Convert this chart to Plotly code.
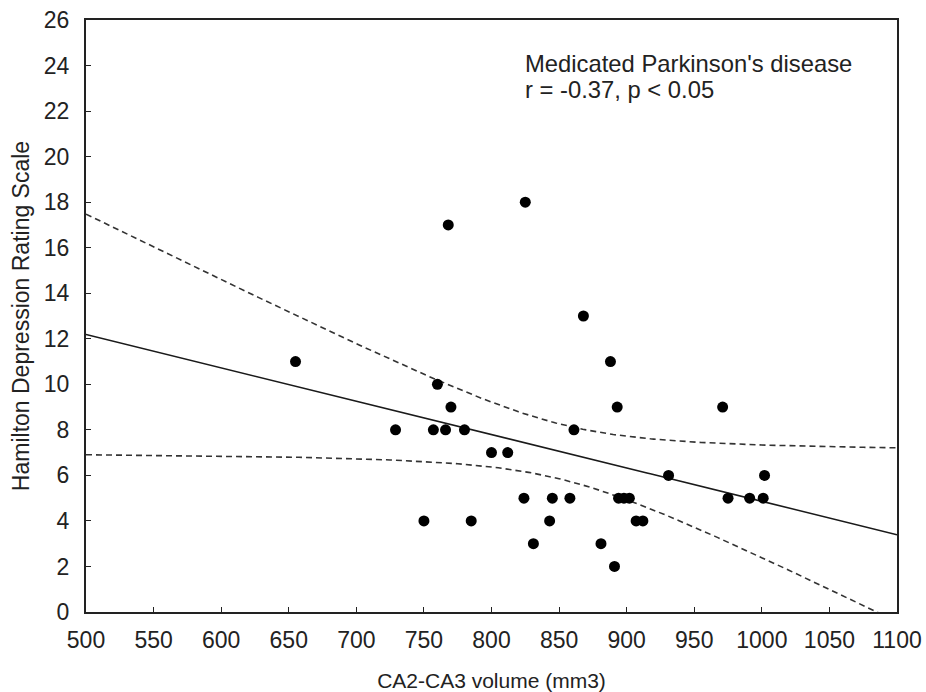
import numpy as np
import plotly.graph_objects as go

# Data
volume_mm3 = [655, 729, 750, 757, 760, 766, 768, 770, 780, 785,
              800, 812, 824, 825, 831, 843, 845, 858, 861, 868,
              881, 888, 891, 893, 894, 898, 902, 907, 912, 931,
              971, 975, 991, 1001, 1002]
hdrs_score = [11, 8, 4, 8, 10, 8, 17, 9, 8, 4,
              7, 7, 5, 18, 3, 4, 5, 5, 8, 13,
              3, 11, 2, 9, 5, 5, 5, 4, 4, 6,
              9, 5, 5, 5, 6]
x_ticks = [500, 550, 600, 650, 700, 750, 800, 850, 900, 950, 1000, 1050, 1100]
y_ticks = [0, 2, 4, 6, 8, 10, 12, 14, 16, 18, 20, 22, 24, 26]
label_line1 = "Medicated Parkinson's disease"
label_line2 = "r = -0.37, p < 0.05"

# Linear fit with 95% confidence band for the mean
x = np.array(volume_mm3, dtype=float)
y = np.array(hdrs_score, dtype=float)
n = len(x)
slope, intercept = np.polyfit(x, y, 1)
xm = x.mean()
sxx = ((x - xm) ** 2).sum()
s = np.sqrt(((y - (intercept + slope * x)) ** 2).sum() / (n - 2))
t_crit = 2.0345  # t(0.975, df=33)
xs = np.linspace(x_ticks[0], x_ticks[-1], 241)
yfit = intercept + slope * xs
hw = t_crit * s * np.sqrt(1.0 / n + (xs - xm) ** 2 / sxx)

fig = go.Figure()
fig.add_trace(go.Scatter(x=xs, y=yfit + hw, mode="lines",
                         line=dict(color="#333333", width=1.6, dash="6px,4px"),
                         showlegend=False, hoverinfo="skip"))
fig.add_trace(go.Scatter(x=xs, y=yfit - hw, mode="lines",
                         line=dict(color="#333333", width=1.6, dash="6px,4px"),
                         showlegend=False, hoverinfo="skip"))
fig.add_trace(go.Scatter(x=xs, y=yfit, mode="lines",
                         line=dict(color="#1a1a1a", width=1.5),
                         showlegend=False, hoverinfo="skip"))
fig.add_trace(go.Scatter(x=volume_mm3, y=hdrs_score, mode="markers",
                         marker=dict(color="black", size=11),
                         showlegend=False, cliponaxis=False))

font_family = "Liberation Sans, Arial, sans-serif"
axis_common = dict(showline=True, linecolor="#222222", linewidth=2, mirror=True,
                   ticks="inside", ticklen=5, tickwidth=1.2, tickcolor="#222222",
                   showgrid=False, zeroline=False, automargin=False,
                   tickfont=dict(family=font_family, size=23, color="#222222"))

fig.update_layout(
    width=926, height=692,
    margin=dict(l=86, r=29, t=20, b=80),
    paper_bgcolor="white", plot_bgcolor="white",
    font=dict(family=font_family, color="#222222"),
    xaxis=dict(range=[500, 1100], tickvals=x_ticks,
               title=dict(text="CA2-CA3 volume (mm3)",
                          font=dict(family=font_family, size=21, color="#222222"),
                          standoff=32),
               ticklabelstandoff=6, **axis_common),
    yaxis=dict(range=[0, 26], tickvals=y_ticks,
               title=dict(text="Hamilton Depression Rating Scale",
                          font=dict(family=font_family, size=23, color="#222222"),
                          standoff=8),
               ticklabelstandoff=10, **axis_common),
    annotations=[
        dict(x=823.5, y=24.09, xref="x", yref="y", text=label_line1, showarrow=False,
             xanchor="left", yanchor="middle",
             font=dict(family=font_family, size=23.8, color="#222222")),
        dict(x=823.5, y=22.95, xref="x", yref="y", text=label_line2, showarrow=False,
             xanchor="left", yanchor="middle",
             font=dict(family=font_family, size=23.8, color="#222222")),
    ],
)

fig.write_html("out.html")
